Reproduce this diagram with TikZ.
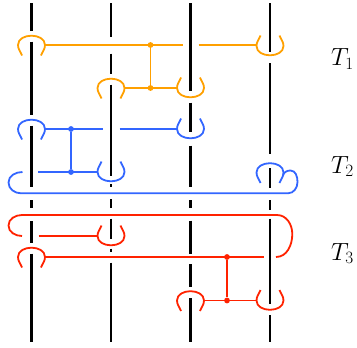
\documentclass[tikz,border=0pt]{standalone}
\definecolor{orangeT}{RGB}{255,160,0}
\definecolor{blueT}{RGB}{51,102,255}
\definecolor{redT}{RGB}{255,34,0}
\newcommand\strandseg[3]{(#1,-#2) -- (#1,-#3)}
\tikzset{
  strand/.style={line width=2.1pt, black},
  cord/.style={line width=1.8pt},
  jdot/.style={circle, fill=#1, inner sep=0pt, minimum size=5.8pt},
  lbl/.style={anchor=base west, inner sep=0pt, font=\fontsize{25}{30}\selectfont},
  claspT/.pic={\draw[cord] (-9.5,-10.5) to[out=110,in=-90] (-13.5,0) to[out=90,in=180] (0,9.3) to[out=0,in=90] (13.5,0) to[out=-90,in=70] (9.5,-10.5);},
  claspB/.pic={\draw[cord] (-9.5,10.5) to[out=-110,in=90] (-13.5,0) to[out=-90,in=180] (0,-9.3) to[out=0,in=-90] (13.5,0) to[out=90,in=-70] (9.5,10.5);}
}
\begin{document}
\begin{tikzpicture}[x=1pt,y=1pt]
\useasboundingbox (0,0) rectangle (357,-348);
% vertical strands
\draw[strand] \strandseg{31.5}{3}{31} \strandseg{31.5}{41.5}{115} \strandseg{31.5}{125.5}{186.5}
  \strandseg{31.5}{200}{207.5} \strandseg{31.5}{221}{243} \strandseg{31.5}{253.5}{342};
\draw[strand] \strandseg{111}{3}{36.5} \strandseg{111}{53.5}{73.5} \strandseg{111}{84.5}{176}
  \strandseg{111}{184}{187.3} \strandseg{111}{199.3}{207.5} \strandseg{111}{218.5}{238.5}
  \strandseg{111}{248.5}{252} \strandseg{111}{262.5}{342};
\draw[strand] \strandseg{190.5}{3}{91} \strandseg{190.5}{102.5}{131.5} \strandseg{190.5}{145.5}{187}
  \strandseg{190.5}{200}{208} \strandseg{190.5}{220.5}{254} \strandseg{190.5}{264}{286.5}
  \strandseg{190.5}{298}{342};
\draw[strand] \strandseg{270}{3}{51.5} \strandseg{270}{63}{154} \strandseg{270}{168}{187.5}
  \strandseg{270}{200}{210} \strandseg{270}{218.5}{304} \strandseg{270}{315}{342};
% T1 (orange)
\pic[orangeT] at (31.5,-45) {claspT};
\pic[orangeT] at (270,-46) {claspB};
\pic[orangeT] at (111,-88) {claspT};
\pic[orangeT] at (190.5,-88) {claspB};
\node[jdot=orangeT] (oj1) at (150.5,-45) {};
\node[jdot=orangeT] (oj2) at (150.5,-88) {};
\draw[cord, orangeT] (45,-45) -- (182.5,-45) (198.5,-45) -- (256.5,-45);
\draw[cord, orangeT] (124.5,-88) -- (177,-88);
\draw[cord, orangeT] (oj1) -- (oj2);
% T2 (blue)
\pic[blueT] at (31.5,-129) {claspT};
\pic[blueT] at (190.5,-129) {claspB};
\pic[blueT] at (111,-172) {claspB};
\pic[blueT] at (270,-172.5) {claspT};
\node[jdot=blueT] (bj1) at (71,-129) {};
\node[jdot=blueT] (bj2) at (71,-172) {};
\draw[cord, blueT] (45,-129) -- (102.5,-129) (119.5,-129) -- (177,-129);
\draw[cord, blueT] (38,-172) -- (97.5,-172);
\draw[cord, blueT] (bj1) -- (bj2);
\draw[cord, blueT] (22.5,-172) to[out=180,in=90] (8.5,-182.5) to[out=-90,in=180] (21,-193.3)
  -- (288,-193.3) to[out=0,in=-90] (297.5,-182) to[out=90,in=0] (290.5,-170.5) to[out=180,in=75] (283,-175.5);
% T3 (red)
\pic[redT] at (31.5,-257) {claspT};
\pic[redT] at (111,-236) {claspB};
\pic[redT] at (190.5,-300.5) {claspT};
\pic[redT] at (270,-300.5) {claspB};
\node[jdot=redT] (rj1) at (227,-257) {};
\node[jdot=redT] (rj2) at (227,-300.5) {};
\draw[cord, redT] (38.5,-236) -- (97.5,-236);
\draw[cord, redT] (22,-236) to[out=180,in=-90] (8.5,-225.5) to[out=90,in=180] (22,-215)
  -- (277,-215) to[out=0,in=90] (292.3,-234) to[out=-90,in=0] (276,-257);
\draw[cord, redT] (45,-257) -- (264,-257);
\draw[cord, redT] (204,-300.5) -- (256.5,-300.5);
\draw[cord, redT] (rj1) -- (rj2);
% labels
\node[lbl] (t1) at (331,-66) {$T_1$};
\node[lbl] (t2) at (331,-173) {$T_2$};
\node[lbl] (t3) at (331,-260) {$T_3$};
\end{tikzpicture}
\end{document}
